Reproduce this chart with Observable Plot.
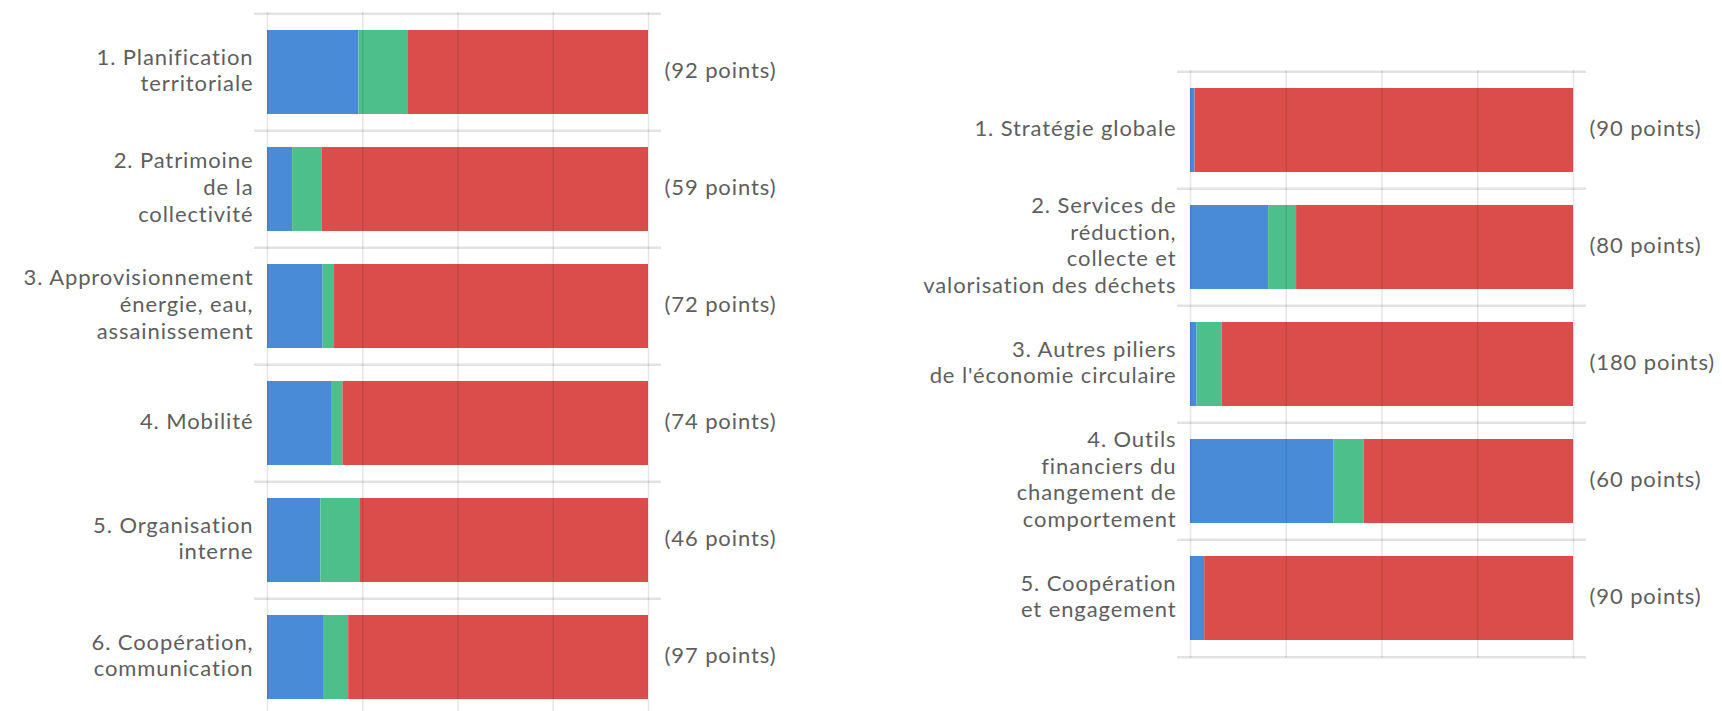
<!DOCTYPE html>
<html><head><meta charset="utf-8">
<script src="https://cdn.jsdelivr.net/npm/d3@7"></script>
<script src="https://cdn.jsdelivr.net/npm/@observablehq/plot@0.6"></script>
<style>
html,body{margin:0;padding:0;background:#fff;overflow:hidden;width:1722px;height:711px}
#left{position:absolute;left:0;top:0;width:860px;height:711px;overflow:hidden}
#right{position:absolute;left:860px;top:0;width:862px;height:711px;overflow:hidden}
svg{display:block}
</style></head><body>
<div id="left"></div><div id="right"></div>
<script>
// ---- data ----
const leftCategories = [
  "1. Planification\nterritoriale",
  "2. Patrimoine\nde la\ncollectivité",
  "3. Approvisionnement\nénergie, eau,\nassainissement",
  "4. Mobilité",
  "5. Organisation\ninterne",
  "6. Coopération,\ncommunication"
];
const leftPoints = [92, 59, 72, 74, 46, 97];
const leftBlue  = [24.0, 6.6, 14.6, 16.8, 14.0, 14.7];
const leftGreen = [13.0, 7.8, 3.0, 3.0, 10.4, 6.6];

const rightCategories = [
  "1. Stratégie globale",
  "2. Services de\nréduction,\ncollecte et\nvalorisation des déchets",
  "3. Autres piliers\nde l'économie circulaire",
  "4. Outils\nfinanciers du\nchangement de\ncomportement",
  "5. Coopération\net engagement"
];
const rightPoints = [90, 80, 180, 60, 90];
const rightBlue  = [1.2, 20.4, 1.7, 37.4, 3.7];
const rightGreen = [0, 7.3, 6.6, 7.9, 0];

const statusKeys = ["bleu", "vert", "rouge"];
const gridTicks = [0, 25, 50, 75, 100];

// ---- styles ----
const statusColors = ["#4a8bd7", "#4cbf8a", "#da4d4b"];
const textColor = "#5e5e5e";
const font = "Lato, sans-serif";

function chart({cats, points, blue, green, width, height, marginLeft, marginRight, marginTop, marginBottom}) {
  const rows = [];
  cats.forEach((c, i) => {
    rows.push({cat: c, status: statusKeys[0], v: blue[i]});
    rows.push({cat: c, status: statusKeys[1], v: green[i]});
    rows.push({cat: c, status: statusKeys[2], v: 100 - blue[i] - green[i]});
  });
  const n = cats.length;
  const step = (height - marginTop - marginBottom) / n;
  const sepStyle = {stroke: "#e2e2e2", strokeWidth: 2.5, insetLeft: -13, insetRight: -13};
  return Plot.plot({
    width, height, marginLeft, marginRight, marginTop, marginBottom,
    x: {domain: [0, 100], axis: null},
    y: {domain: cats, axis: null, paddingInner: 0.28, paddingOuter: 0.14},
    color: {domain: statusKeys, range: statusColors},
    style: {fontFamily: font, fontSize: "22px", color: textColor, background: "transparent", letterSpacing: "0.9px"},
    marks: [
      Plot.ruleY(cats, {y: d => d, dy: -step / 2, ...sepStyle}),
      Plot.ruleY([cats[n - 1]], {y: d => d, dy: step / 2, ...sepStyle}),
      Plot.barX(rows, {x: "v", y: "cat", fill: "status"}),
      Plot.ruleX(gridTicks, {stroke: "#000", strokeOpacity: 0.1, strokeWidth: 1.5}),
      Plot.text(cats, {y: d => d, x: () => 0, text: d => d, textAnchor: "end", dx: -14, dy: -3, lineHeight: 1.215, fill: textColor}),
      Plot.text(cats, {y: d => d, x: () => 100, text: (d, i) => `(${points[i]} points)`, textAnchor: "start", dx: 16, dy: -2, fill: textColor})
    ]
  });
}

document.getElementById("left").append(chart({
  cats: leftCategories, points: leftPoints, blue: leftBlue, green: leftGreen,
  width: 860, height: 718, marginLeft: 267, marginRight: 212, marginTop: 12, marginBottom: 1
}));
document.getElementById("right").append(chart({
  cats: rightCategories, points: rightPoints, blue: rightBlue, green: rightGreen,
  width: 862, height: 711, marginLeft: 330, marginRight: 149, marginTop: 70, marginBottom: 53
}));
</script>
</body></html>
